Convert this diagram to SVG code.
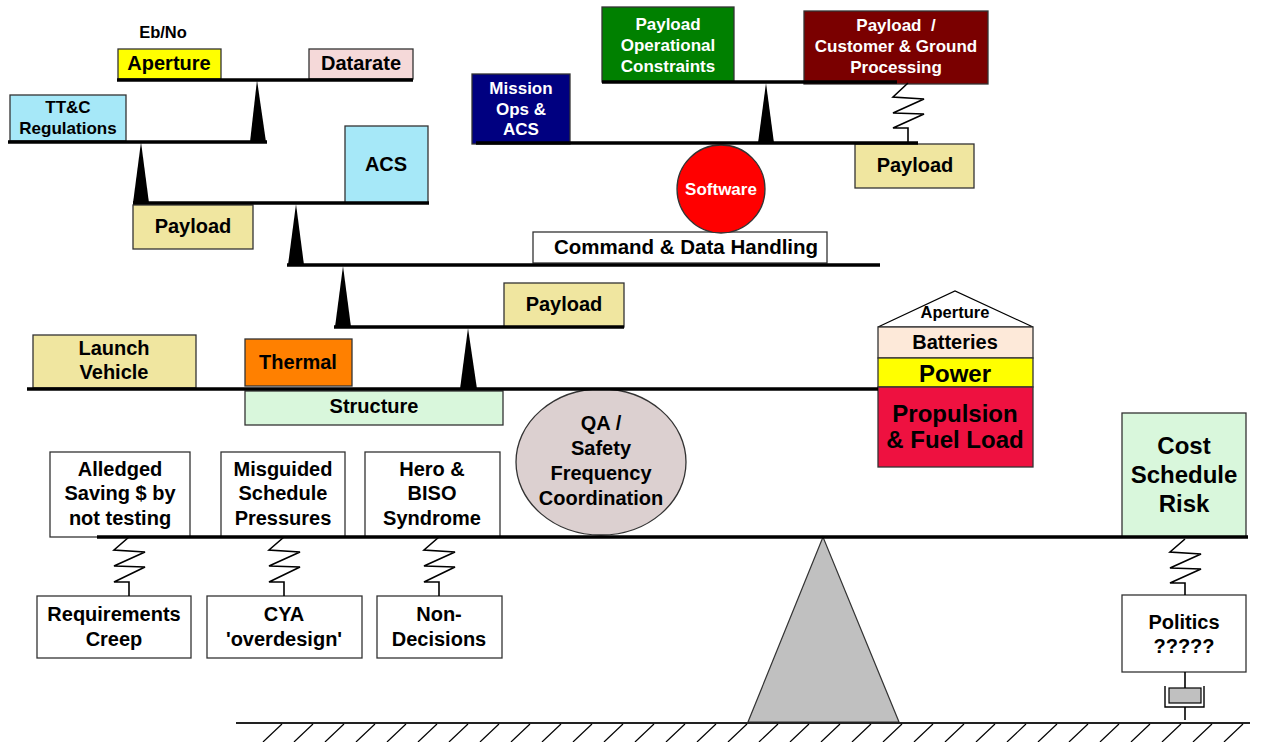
<svg xmlns="http://www.w3.org/2000/svg" width="1266" height="742" viewBox="0 0 1266 742">
<style>
.t{font-family:"Liberation Sans",Arial,sans-serif;font-weight:bold;text-anchor:middle;fill:#000}
.w{fill:#fff}
.b{stroke:#333;stroke-width:1.3}
.beam{stroke:#000;stroke-width:3.5;fill:none}
.ful{fill:#000;stroke:none}
.spr{fill:none;stroke:#000;stroke-width:1.6}
.hat{stroke:#000;stroke-width:1.2}
.s16{font-size:16.5px}.s17{font-size:17px}.s20{font-size:20px}.s24{font-size:24px}
</style>
<rect width="1266" height="742" fill="#fff"/>

<g id="ground">
<polygon points="823,537 748,722 899,722" fill="#C0C0C0" stroke="#333" stroke-width="1.2"/>
<line x1="236" y1="723" x2="1250" y2="723" stroke="#222" stroke-width="2.2"/>
<g class="hat">
<line x1="282" y1="724" x2="263" y2="742"/><line x1="313" y1="724" x2="294" y2="742"/><line x1="344" y1="724" x2="325" y2="742"/><line x1="375" y1="724" x2="356" y2="742"/><line x1="406" y1="724" x2="387" y2="742"/><line x1="437" y1="724" x2="418" y2="742"/><line x1="468" y1="724" x2="449" y2="742"/><line x1="499" y1="724" x2="480" y2="742"/><line x1="530" y1="724" x2="511" y2="742"/><line x1="561" y1="724" x2="542" y2="742"/><line x1="592" y1="724" x2="573" y2="742"/><line x1="623" y1="724" x2="604" y2="742"/><line x1="654" y1="724" x2="635" y2="742"/><line x1="685" y1="724" x2="666" y2="742"/><line x1="716" y1="724" x2="697" y2="742"/><line x1="747" y1="724" x2="728" y2="742"/><line x1="778" y1="724" x2="759" y2="742"/><line x1="809" y1="724" x2="790" y2="742"/><line x1="840" y1="724" x2="821" y2="742"/><line x1="871" y1="724" x2="852" y2="742"/><line x1="902" y1="724" x2="883" y2="742"/><line x1="933" y1="724" x2="914" y2="742"/><line x1="964" y1="724" x2="945" y2="742"/><line x1="995" y1="724" x2="976" y2="742"/><line x1="1026" y1="724" x2="1007" y2="742"/><line x1="1057" y1="724" x2="1038" y2="742"/><line x1="1088" y1="724" x2="1069" y2="742"/><line x1="1119" y1="724" x2="1100" y2="742"/><line x1="1150" y1="724" x2="1131" y2="742"/><line x1="1181" y1="724" x2="1162" y2="742"/><line x1="1212" y1="724" x2="1193" y2="742"/><line x1="1243" y1="724" x2="1224" y2="742"/>
</g>
</g>

<g id="ebno"><text class="t s16" x="163" y="38">Eb/No</text></g>
<g id="aperture"><rect class="b" x="118" y="49" width="103" height="30" fill="#FFFF00"/><text class="t s20" x="169" y="70">Aperture</text></g>
<g id="datarate"><rect class="b" x="309" y="49" width="104" height="30" fill="#F5D9D9"/><text class="t s20" x="361" y="70">Datarate</text></g>
<g id="ttc"><rect class="b" x="10" y="95" width="116" height="46" fill="#A6E8F8"/><text class="t s17" x="68" y="113">TT&amp;C</text><text class="t s17" x="68" y="134">Regulations</text></g>
<g id="acs"><rect class="b" x="345" y="126" width="83" height="77" fill="#A6E8F8"/><text class="t s20" x="386" y="171">ACS</text></g>
<g id="payload1"><rect class="b" x="133" y="205" width="120" height="44" fill="#F0E6A0"/><text class="t s20" x="193" y="233">Payload</text></g>
<g id="cdh"><rect class="b" x="533" y="232" width="294" height="31" fill="#fff"/><text class="t" style="font-size:20.5px" x="686" y="254">Command &amp; Data Handling</text></g>
<g id="software"><circle cx="721" cy="189" r="44" fill="#FF0000" stroke="#333" stroke-width="1.3"/><text class="t s17 w" x="721" y="195">Software</text></g>
<g id="missionops"><rect class="b" x="472" y="74" width="98" height="70" fill="#000080"/><text class="t s17 w" x="521" y="94">Mission</text><text class="t s17 w" x="521" y="115">Ops &amp;</text><text class="t s17 w" x="521" y="135">ACS</text></g>
<g id="payloadops"><rect class="b" x="602" y="7" width="132" height="75" fill="#008000"/><text class="t s17 w" x="668" y="30">Payload</text><text class="t s17 w" x="668" y="51">Operational</text><text class="t s17 w" x="668" y="72">Constraints</text></g>
<g id="customer"><rect class="b" x="804" y="11" width="184" height="73" fill="#7A0000"/><text class="t s17 w" x="896" y="31" style="white-space:pre">Payload  /</text><text class="t s17 w" x="896" y="52">Customer &amp; Ground</text><text class="t s17 w" x="896" y="73">Processing</text></g>
<g id="payload2"><rect class="b" x="855" y="144" width="119" height="44" fill="#F0E6A0"/><text class="t s20" x="915" y="172">Payload</text></g>
<g id="payload3"><rect class="b" x="504" y="283" width="120" height="44" fill="#F0E6A0"/><text class="t s20" x="564" y="311">Payload</text></g>
<g id="launch"><rect class="b" x="33" y="335" width="163" height="53" fill="#F0E6A0"/><text class="t s20" x="114" y="355">Launch</text><text class="t s20" x="114" y="379">Vehicle</text></g>
<g id="thermal"><rect class="b" x="245" y="339" width="107" height="47" fill="#FF8000"/><text class="t s20" x="298" y="369">Thermal</text></g>
<g id="structure"><rect class="b" x="245" y="391" width="258" height="34" fill="#D9F7DC"/><text class="t s20" x="374" y="413">Structure</text></g>
<g id="qa"><ellipse cx="601" cy="462" rx="85" ry="73" fill="#DCD0D0" stroke="#333" stroke-width="1.3"/><text class="t s20" x="601" y="430">QA /</text><text class="t s20" x="601" y="455">Safety</text><text class="t s20" x="601" y="480">Frequency</text><text class="t s20" x="601" y="505">Coordination</text></g>
<g id="aperture2"><polygon points="878,327 955,291 1033,327" fill="#fff" stroke="#000" stroke-width="1.2"/><text class="t s16" x="955" y="318">Aperture</text></g>
<g id="batteries"><rect class="b" x="878" y="327" width="155" height="31" fill="#FDE9D9"/><text class="t s20" x="955" y="349">Batteries</text></g>
<g id="power"><rect class="b" x="878" y="358" width="155" height="29" fill="#FFFF00"/><text class="t s24" x="955" y="382">Power</text></g>
<g id="propulsion"><rect class="b" x="878" y="387" width="155" height="80" fill="#EE1140"/><text class="t s24" x="955" y="422">Propulsion</text><text class="t s24" x="955" y="448">&amp; Fuel Load</text></g>
<g id="cost"><rect class="b" x="1122" y="413" width="124" height="124" fill="#D9F7DC"/><text class="t s24" x="1184" y="454">Cost</text><text class="t s24" x="1184" y="483">Schedule</text><text class="t s24" x="1184" y="512">Risk</text></g>
<g id="politics"><rect class="b" x="1122" y="595" width="124" height="77" fill="#fff"/><text class="t s20" x="1184" y="629">Politics</text><text class="t s20" x="1184" y="653">?????</text></g>
<g id="alleged"><rect class="b" x="50" y="452" width="140" height="85" fill="#fff"/><text class="t s20" x="120" y="476">Alledged</text><text class="t s20" x="120" y="500">Saving $ by</text><text class="t s20" x="120" y="525">not testing</text></g>
<g id="misguided"><rect class="b" x="221" y="452" width="124" height="85" fill="#fff"/><text class="t s20" x="283" y="476">Misguided</text><text class="t s20" x="283" y="500">Schedule</text><text class="t s20" x="283" y="525">Pressures</text></g>
<g id="hero"><rect class="b" x="365" y="452" width="135" height="85" fill="#fff"/><text class="t s20" x="432" y="476">Hero &amp;</text><text class="t s20" x="432" y="500">BISO</text><text class="t s20" x="432" y="525">Syndrome</text></g>
<g id="reqcreep"><rect class="b" x="37" y="596" width="154" height="62" fill="#fff"/><text class="t s20" x="114" y="621">Requirements</text><text class="t s20" x="114" y="646">Creep</text></g>
<g id="cya"><rect class="b" x="207" y="596" width="155" height="62" fill="#fff"/><text class="t s20" x="284" y="621">CYA</text><text class="t s20" x="284" y="646">'overdesign'</text></g>
<g id="nondec"><rect class="b" x="377" y="596" width="125" height="62" fill="#fff"/><text class="t s20" x="439" y="621">Non-</text><text class="t s20" x="439" y="646">Decisions</text></g>

<g id="connectors">
<line class="beam" x1="117" y1="80" x2="413" y2="80"/>
<line class="beam" x1="8" y1="142" x2="267" y2="142"/>
<line class="beam" x1="133" y1="203" x2="429" y2="203"/>
<line class="beam" x1="287" y1="265" x2="880" y2="265"/>
<line class="beam" x1="334" y1="327" x2="624" y2="327"/>
<line class="beam" x1="27" y1="389" x2="878" y2="389"/>
<line class="beam" x1="602" y1="82" x2="897" y2="82"/>
<line class="beam" x1="476" y1="143" x2="918" y2="143"/>
<line class="beam" x1="97" y1="537" x2="1248" y2="537"/>
<polygon class="ful" points="257,80 250,142 266,142"/>
<polygon class="ful" points="141,142 133,203 149,203"/>
<polygon class="ful" points="296,204 288,265 304,265"/>
<polygon class="ful" points="343,266 335,327 351,327"/>
<polygon class="ful" points="468,328 460,389 477,389"/>
<polygon class="ful" points="766,83 758,143 774,143"/>
<polyline class="spr" points="908,83 893,97 924,99 893,113 924,114 893,128 908,128 908,142"/>
<polyline class="spr" points="129,537 114,550 145,552 114,566 145,567 114,582 129,582 129,596"/>
<polyline class="spr" points="284,537 269,550 300,552 269,566 300,567 269,582 284,582 284,596"/>
<polyline class="spr" points="439,537 424,550 455,552 424,566 455,567 424,582 439,582 439,596"/>
<polyline class="spr" points="1185,539 1170,552 1201,554 1170,568 1201,569 1170,583 1185,583 1185,595"/>
<line x1="1185" y1="672" x2="1185" y2="688" stroke="#000" stroke-width="1.6"/>
<rect x="1169" y="688" width="32" height="15" fill="#C0C0C0" stroke="#000" stroke-width="1.2"/>
<polyline points="1165,686 1165,707 1204,707 1204,686" fill="none" stroke="#000" stroke-width="1.4"/>
<line x1="1185" y1="707" x2="1185" y2="720" stroke="#000" stroke-width="1.6"/>
</g>
</svg>
